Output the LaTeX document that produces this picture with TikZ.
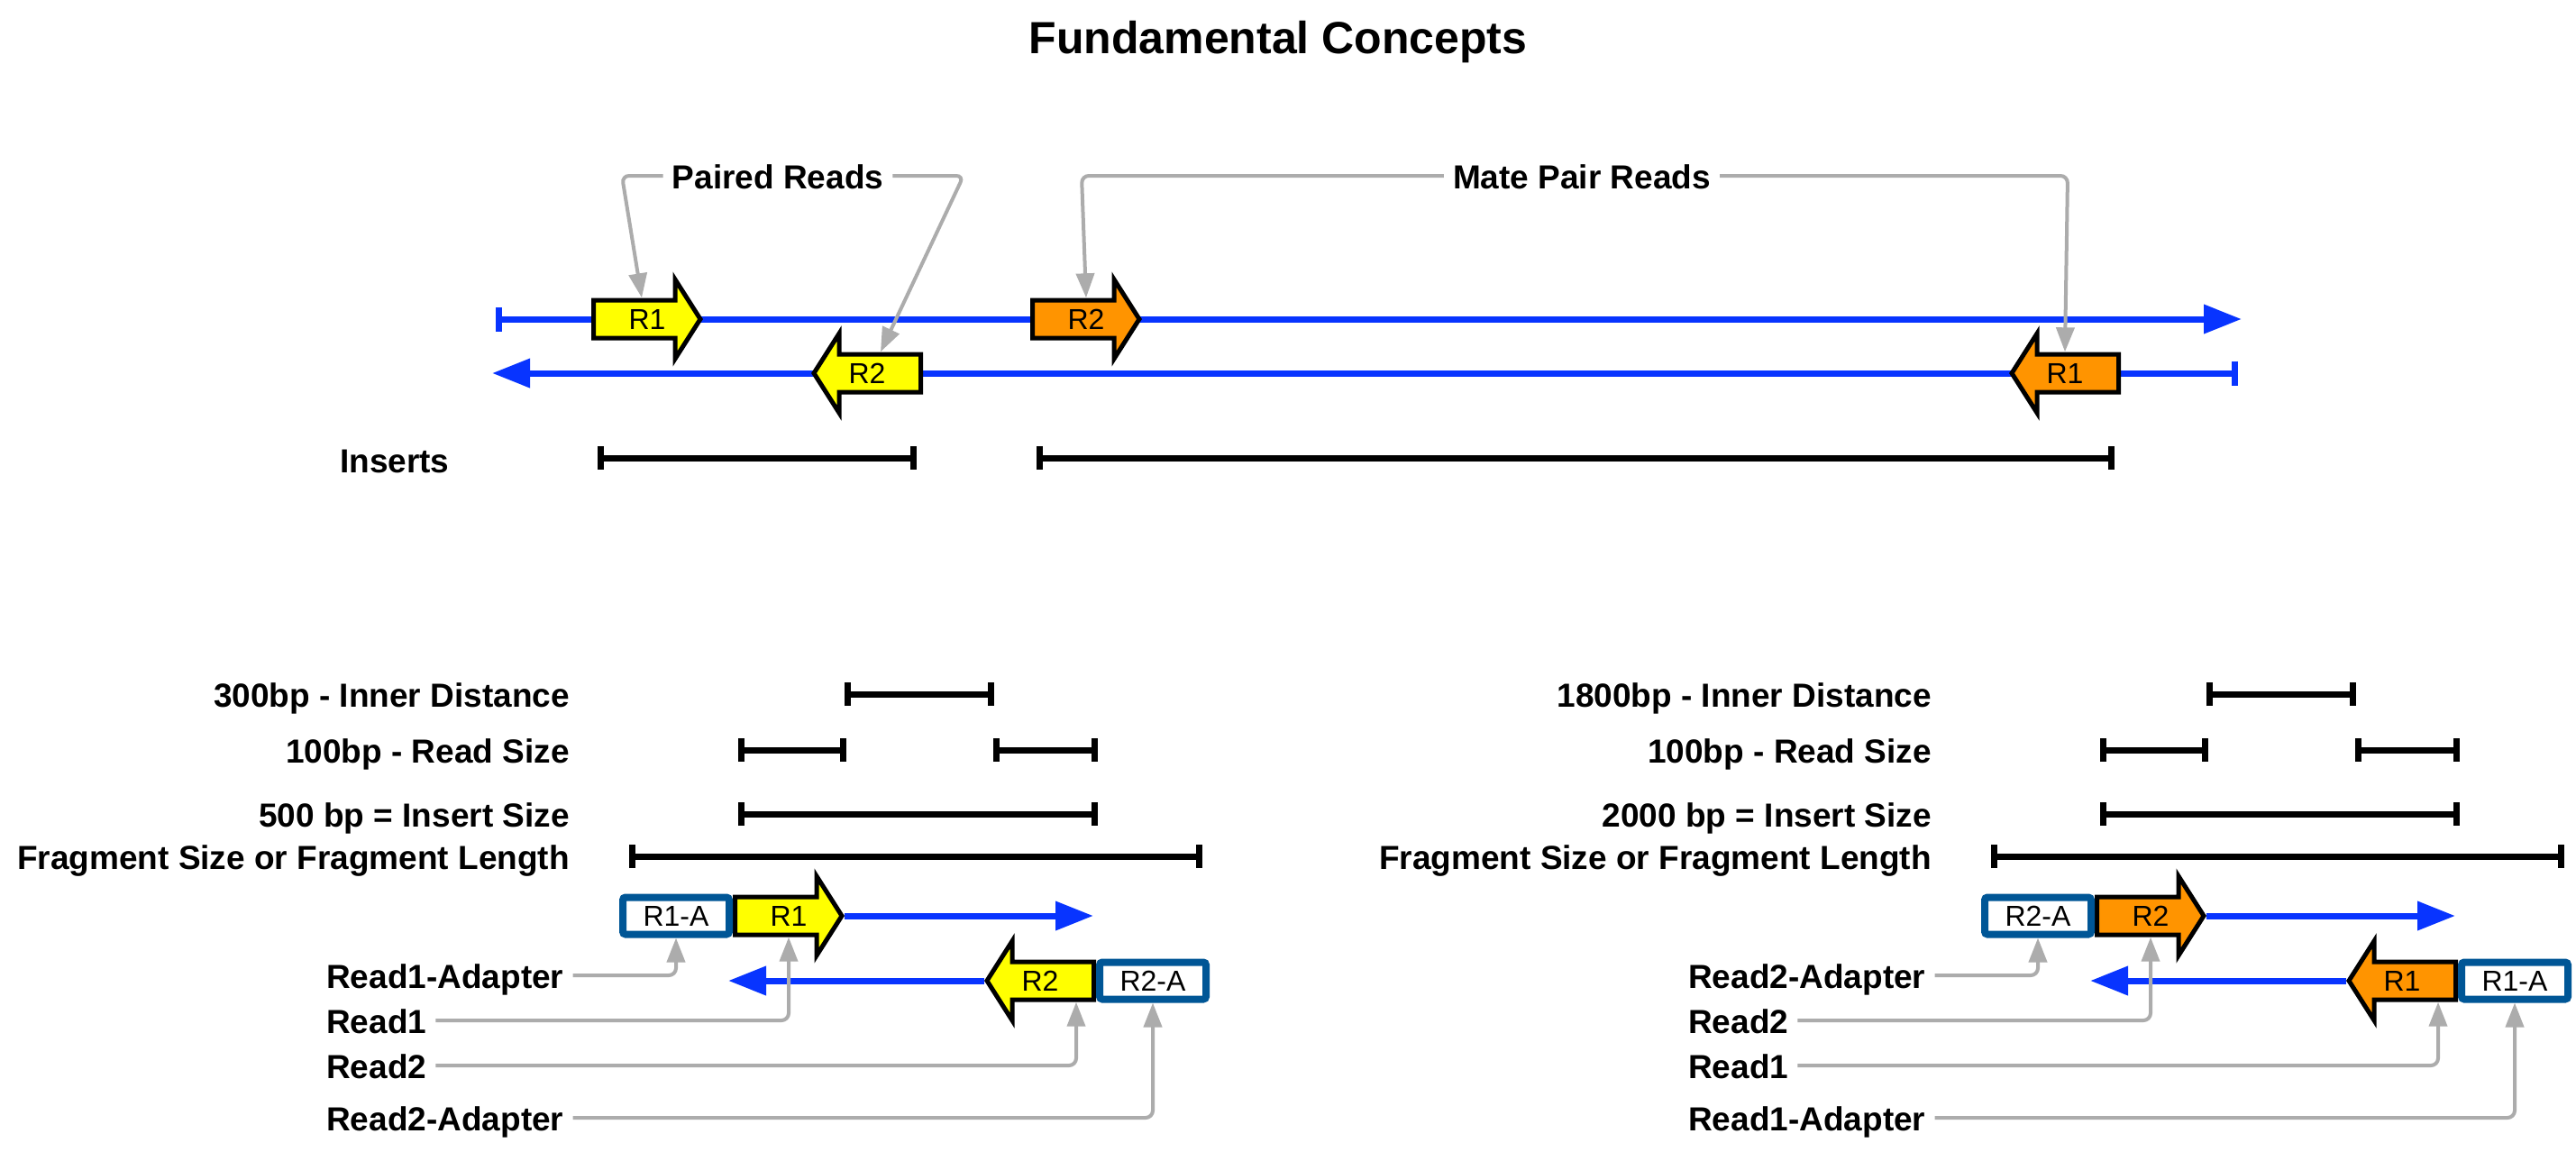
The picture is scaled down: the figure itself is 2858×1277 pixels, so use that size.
\documentclass[tikz,border=0pt]{standalone}
\usepackage{fontspec}
\setmainfont{Liberation Sans}
\usetikzlibrary{arrows.meta,calc}
\definecolor{strandblue}{RGB}{8,52,255}
\definecolor{readyellow}{RGB}{255,255,0}
\definecolor{readorange}{RGB}{255,148,0}
\definecolor{adapterblue}{RGB}{0,86,150}
\definecolor{conngray}{RGB}{172,172,172}
\newcommand\labfont{\bfseries\fontsize{37}{44}\selectfont}
\newcommand\readfont{\fontsize{32}{38}\selectfont}
\newcommand\titlefont{\bfseries\fontsize{50}{60}\selectfont}
\tikzset{
  strand/.style={draw=strandblue, line width=7pt},
  dimbar/.style={draw=black, line width=7pt, {Bar[width=26pt]}-{Bar[width=26pt]}},
  conn/.style={draw=conngray, line width=4pt, rounded corners=8pt, -{Triangle[length=27pt,width=20pt]}},
  readshape/.style={draw=black, line width=5pt, line join=miter},
  readtxt/.style={font=\readfont, inner sep=0pt, minimum width=124pt, minimum height=47pt},
  adapter/.style={draw=adapterblue, line width=8pt, fill=white, rounded corners=3pt, font=\readfont, inner sep=0pt, minimum width=118pt, minimum height=41pt},
  lab/.style={font=\labfont, inner xsep=10pt, inner ysep=0pt, text height=28pt, text depth=0pt}
}
% right-pointing read: name, tail x, y, fill, text
\newcommand\rread[5]{%
  \path[readshape, fill=#4] ({#2+2.5},{#3-21}) -- ({#2+93},{#3-21}) -- ({#2+93},{#3-44}) -- ({#2+121},{#3}) -- ({#2+93},{#3+44}) -- ({#2+93},{#3+21}) -- ({#2+2.5},{#3+21}) -- cycle;
  \node[readtxt] (#1) at ({#2+62},{#3}) {#5};}
% left-pointing read: name, tail x (right end), y, fill, text
\newcommand\lread[5]{%
  \path[readshape, fill=#4] ({#2-2.5},{#3-21}) -- ({#2-93},{#3-21}) -- ({#2-93},{#3-44}) -- ({#2-121},{#3}) -- ({#2-93},{#3+44}) -- ({#2-93},{#3+21}) -- ({#2-2.5},{#3+21}) -- cycle;
  \node[readtxt] (#1) at ({#2-62},{#3}) {#5};}
\begin{document}
\begin{tikzpicture}[x=1pt,y=-1pt]
\fill[white] (0,0) rectangle (2858,1277);
\useasboundingbox (0,0) rectangle (2858,1277);

\node[font=\titlefont, anchor=base, inner sep=0pt] (title) at (1418,59) {Fundamental Concepts};

% ---------- top section ----------
\coordinate (ts0) at (550,354);
\coordinate (ts1) at (2487,354);
\coordinate (bs0) at (546,414);
\coordinate (bs1) at (2483,414);
\draw[strand, {Bar[width=27pt]}-{Triangle[length=42pt,width=31pt]}] (ts0) -- (ts1);
\draw[strand, {Triangle[length=42pt,width=31pt]}-{Bar[width=27pt]}] (bs0) -- (bs1);

\rread{r1t}{656}{354}{readyellow}{R1}
\rread{r2o}{1143}{354}{readorange}{R2}
\lread{r2t}{1024}{414}{readyellow}{R2}
\lread{r1o}{2353}{414}{readorange}{R1}

\node[lab] (paired) at (863,195) {Paired Reads};
\node[lab] (mate) at (1755,195) {Mate Pair Reads};
\node[lab, anchor=west] (inserts) at (367,510) {Inserts};

\draw[conn] (paired.west) -- (690,195) -- ($(r1t.north)+(-6,0)$);
\draw[conn] (paired.east) -- (1069,195) -- ($(r2t.north)+(15,0)$);
\draw[conn] (mate.west) -- (1200,195) -- (r2o.north);
\draw[conn] (mate.east) -- (2294,195) -- (r1o.north);

\draw[dimbar] (663,508) -- (1017,508);
\draw[dimbar] (1150,508) -- (2346,508);

% ---------- bottom left: paired end ----------
\node[lab, anchor=east] (inL) at (642,770) {300bp - Inner Distance};
\node[lab, anchor=east] (rsL) at (642,832) {100bp - Read Size};
\node[lab, anchor=east] (isL) at (642,903) {500 bp = Insert Size};
\node[lab, anchor=east] (fsL) at (642,950) {Fragment Size or Fragment Length};
\draw[dimbar] (937,770) -- (1103,770);
\draw[dimbar] (819,832) -- (939,832);
\draw[dimbar] (1102,832) -- (1218,832);
\draw[dimbar] (819,903) -- (1218,903);
\draw[dimbar] (698,950) -- (1334,950);

\coordinate (eL1) at (1213,1016);
\coordinate (eL2) at (808,1088);
\rread{r1L}{813}{1016}{readyellow}{R1}
\lread{r2L}{1216}{1088}{readyellow}{R2}
\draw[strand, -{Triangle[length=42pt,width=31pt]}] (r1L.east) -- (eL1);
\draw[strand, -{Triangle[length=42pt,width=31pt]}] (r2L.west) -- (eL2);
\node[adapter] (ba1) at (750,1016) {R1-A};
\node[adapter] (ba2) at (1279,1088) {R2-A};

\node[lab, anchor=west] (la1) at (352,1082) {Read1-Adapter};
\node[lab, anchor=west] (lr1) at (352,1132) {Read1};
\node[lab, anchor=west] (lr2) at (352,1182) {Read2};
\node[lab, anchor=west] (la2) at (352,1240) {Read2-Adapter};
\draw[conn] (la1.east) -| (ba1.south);
\draw[conn] (lr1.east) -| (r1L.south);
\draw[conn] (lr2.east) -| ($(r2L.south)+(40,0)$);
\draw[conn] (la2.east) -| (ba2.south);

% ---------- bottom right: mate pair ----------
\node[lab, anchor=east] (inR) at (2153,770) {1800bp - Inner Distance};
\node[lab, anchor=east] (rsR) at (2153,832) {100bp - Read Size};
\node[lab, anchor=east] (isR) at (2153,903) {2000 bp = Insert Size};
\node[lab, anchor=east] (fsR) at (2153,950) {Fragment Size or Fragment Length};
\draw[dimbar] (2448,770) -- (2614,770);
\draw[dimbar] (2330,832) -- (2450,832);
\draw[dimbar] (2613,832) -- (2729,832);
\draw[dimbar] (2330,903) -- (2729,903);
\draw[dimbar] (2209,950) -- (2845,950);

\coordinate (eR1) at (2724,1016);
\coordinate (eR2) at (2319,1088);
\rread{r2R}{2324}{1016}{readorange}{R2}
\lread{r1R}{2727}{1088}{readorange}{R1}
\draw[strand, -{Triangle[length=42pt,width=31pt]}] (r2R.east) -- (eR1);
\draw[strand, -{Triangle[length=42pt,width=31pt]}] (r1R.west) -- (eR2);
\node[adapter] (ba2R) at (2261,1016) {R2-A};
\node[adapter] (ba1R) at (2790,1088) {R1-A};

\node[lab, anchor=west] (la2R) at (1863,1082) {Read2-Adapter};
\node[lab, anchor=west] (lr2R) at (1863,1132) {Read2};
\node[lab, anchor=west] (lr1R) at (1863,1182) {Read1};
\node[lab, anchor=west] (la1R) at (1863,1240) {Read1-Adapter};
\draw[conn] (la2R.east) -| (ba2R.south);
\draw[conn] (lr2R.east) -| (r2R.south);
\draw[conn] (lr1R.east) -| ($(r1R.south)+(40,0)$);
\draw[conn] (la1R.east) -| (ba1R.south);
\end{tikzpicture}
\end{document}
